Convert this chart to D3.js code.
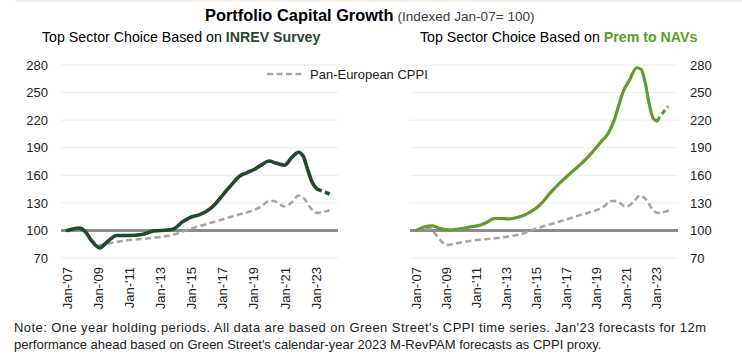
<!DOCTYPE html>
<html><head><meta charset="utf-8">
<script src="https://cdn.jsdelivr.net/npm/d3@7"></script>
<style>
body{margin:0;background:#fff;}
svg{display:block;font-family:"Liberation Sans",Arial,sans-serif;}
</style></head>
<body><svg id="c" width="742" height="363"></svg>
<script>
// ---- data ----
const tickYears = [2007, 2009, 2011, 2013, 2015, 2017, 2019, 2021, 2023];
const tickLabels = ["Jan-'07","Jan-'09","Jan-'11","Jan-'13","Jan-'15","Jan-'17","Jan-'19","Jan-'21","Jan-'23"];
const yTicks = [70, 100, 130, 160, 190, 220, 250, 280];

const cppiYears  = [2007.0,2007.5,2007.9,2008.3,2008.7,2009.0,2010.0,2011.0,2012.0,2013.0,2014.0,2014.5,2015.0,2016.0,2017.0,2018.0,2019.0,2019.5,2020.0,2020.3,2021.0,2021.5,2021.9,2022.3,2022.8,2023.1,2023.5,2023.9];
const cppiValues = [100,101.5,102,96,88,84,87,89.5,91,93,96,99,102,107,112,117,122,126,132,132,126,131,138,134,122,119,120,122];

const inrevYears  = [2007.0,2007.5,2007.8,2008.2,2008.6,2009.1,2009.6,2010.2,2011.0,2011.8,2012.6,2013.5,2013.9,2014.4,2014.9,2015.5,2015.9,2016.5,2016.9,2017.5,2018.1,2018.6,2019.0,2019.5,2020.0,2020.5,2021.0,2021.5,2021.9,2022.2,2022.5,2022.8,2023.1];
const inrevValues = [100,102,102.5,98,88,81,88,94.5,94.5,95.5,99.5,100.5,102,109,114,117,120,128,136,148,159,163,166,171,175.5,173,171,180,185,181,166,152,145];
const inrevFcYears  = [2023.1, 2024.0];
const inrevFcValues = [145, 139];

const navYears  = [2007.0,2007.6,2008.1,2008.6,2009.2,2009.8,2010.5,2011.3,2011.8,2012.2,2012.7,2013.1,2013.6,2014.1,2014.6,2015.1,2015.5,2015.9,2016.6,2017.2,2017.9,2018.4,2018.8,2019.3,2019.8,2020.2,2020.5,2020.8,2021.2,2021.7,2022.0,2022.3,2022.5,2022.8,2023.05];
const navValues = [100,104,105,102,100.5,101.5,103.5,106,109.5,113,113,112.5,113.5,116,120,125.5,132,140,152,161,171,179,186,196,205.5,220,236,251,263,277,275,258,240,222,219];
const navFcYears  = [2023.05, 2023.3, 2023.8];
const navFcValues = [219, 225, 235];

// ---- drawing ----
const svg = d3.select("#c");
const darkGreen = "#1f4b2a", lightGreen = "#5b9e2b", grey = "#a5a5a5";

svg.append("rect").attr("x",15).attr("y",0).attr("width",727).attr("height",2).attr("fill","#f8f2e9");

// title
const t = svg.append("text").attr("x",205).attr("y",21);
t.append("tspan").attr("font-size",16.4).attr("font-weight","bold").attr("fill","#000").text("Portfolio Capital Growth");
t.append("tspan").attr("font-size",13.6).attr("fill","#404040").attr("dx",4).text("(Indexed Jan-07= 100)");

function panel(opt){
  const x = d3.scaleLinear().domain([2006.6, 2024.45]).range([opt.x0, opt.x1]);
  const y = d3.scaleLinear().domain([70, 280]).range([258, 65]);
  const g = svg.append("g");
  // subtitle
  const st = g.append("text").attr("x",opt.subX).attr("y",42).attr("font-size",14.2).attr("fill","#000");
  st.append("tspan").text("Top Sector Choice Based on ");
  st.append("tspan").attr("font-weight","bold").attr("fill",opt.color).text(opt.subBold);
  if (opt.legend) {
    g.append("rect").attr("x",240).attr("y",60).attr("width",200).attr("height",26).attr("fill","#fff");
  }
  // gridlines
  g.selectAll("line.grid").data(yTicks.filter(v=>v!==100)).join("line")
    .attr("x1",opt.x0).attr("x2",opt.x1).attr("y1",d=>y(d)).attr("y2",d=>y(d))
    .attr("stroke","#ebebeb").attr("stroke-width",1);
  // y axis
  const ya = opt.right ? d3.axisRight(y) : d3.axisLeft(y);
  ya.tickValues(yTicks).tickSize(0).tickPadding(opt.right?12:13);
  const yg = g.append("g").attr("transform",`translate(${opt.right?opt.x1:opt.x0},0)`).call(ya);
  yg.select(".domain").remove();
  yg.selectAll("text").attr("font-size",13).attr("fill","#222").attr("font-family","'Liberation Sans',Arial,sans-serif");
  // x axis
  const xa = d3.axisBottom(x).tickValues(tickYears).tickFormat((d,i)=>tickLabels[i]).tickSize(0);
  const xg = g.append("g").attr("transform","translate(0,258)").call(xa);
  xg.select(".domain").remove();
  xg.selectAll("text").attr("font-size",13).attr("fill","#222").attr("font-family","'Liberation Sans',Arial,sans-serif")
    .attr("transform","rotate(-90)").attr("text-anchor","end").attr("x",-9).attr("y",0).attr("dy","0.35em");
  // baseline 100
  g.append("line").attr("x1",opt.x0).attr("x2",opt.x1).attr("y1",y(100)).attr("y2",y(100))
    .attr("stroke","#8c8c8c").attr("stroke-width",3);

  const line = d3.line().x(d=>x(d[0])).y(d=>y(d[1])).curve(d3.curveMonotoneX);
  g.append("path").datum(d3.zip(cppiYears,cppiValues)).attr("d",line)
    .attr("fill","none").attr("stroke",grey).attr("stroke-width",2.6).attr("stroke-dasharray","6,3.5");
  g.append("path").datum(d3.zip(opt.years,opt.values)).attr("d",line)
    .attr("fill","none").attr("stroke",opt.color).attr("stroke-width",opt.width).attr("stroke-linejoin","round").attr("stroke-linecap","round");
  g.append("path").datum(d3.zip(opt.fcYears,opt.fcValues)).attr("d",line)
    .attr("fill","none").attr("stroke",opt.color).attr("stroke-width",opt.width).attr("stroke-dasharray","5,3.5");

  if (opt.legend) {
    g.append("line").attr("x1",267).attr("x2",305).attr("y1",74).attr("y2",74)
      .attr("stroke",grey).attr("stroke-width",2.6).attr("stroke-dasharray","6,3.5");
    g.append("text").attr("x",310).attr("y",78.5).attr("font-size",13).attr("fill","#222").text("Pan-European CPPI");
  }
}

panel({x0:61,x1:338,color:darkGreen,subX:42,subBold:"INREV Survey",years:inrevYears,values:inrevValues,fcYears:inrevFcYears,fcValues:inrevFcValues,width:3.6,legend:true,right:false});
panel({x0:410,x1:678,color:lightGreen,subX:420,subBold:"Prem to NAVs",years:navYears,values:navValues,fcYears:navFcYears,fcValues:navFcValues,width:3.2,legend:false,right:true});

// note
const note = svg.append("text").attr("font-size",13).attr("fill","#222");
note.append("tspan").attr("x",14).attr("y",332).attr("textLength",692).attr("lengthAdjust","spacing").text("Note: One year holding periods. All data are based on Green Street's CPPI time series. Jan'23 forecasts for 12m");
note.append("tspan").attr("x",14).attr("y",349).text("performance ahead based on Green Street's calendar-year 2023 M-RevPAM forecasts as CPPI proxy.");
</script></body></html>
